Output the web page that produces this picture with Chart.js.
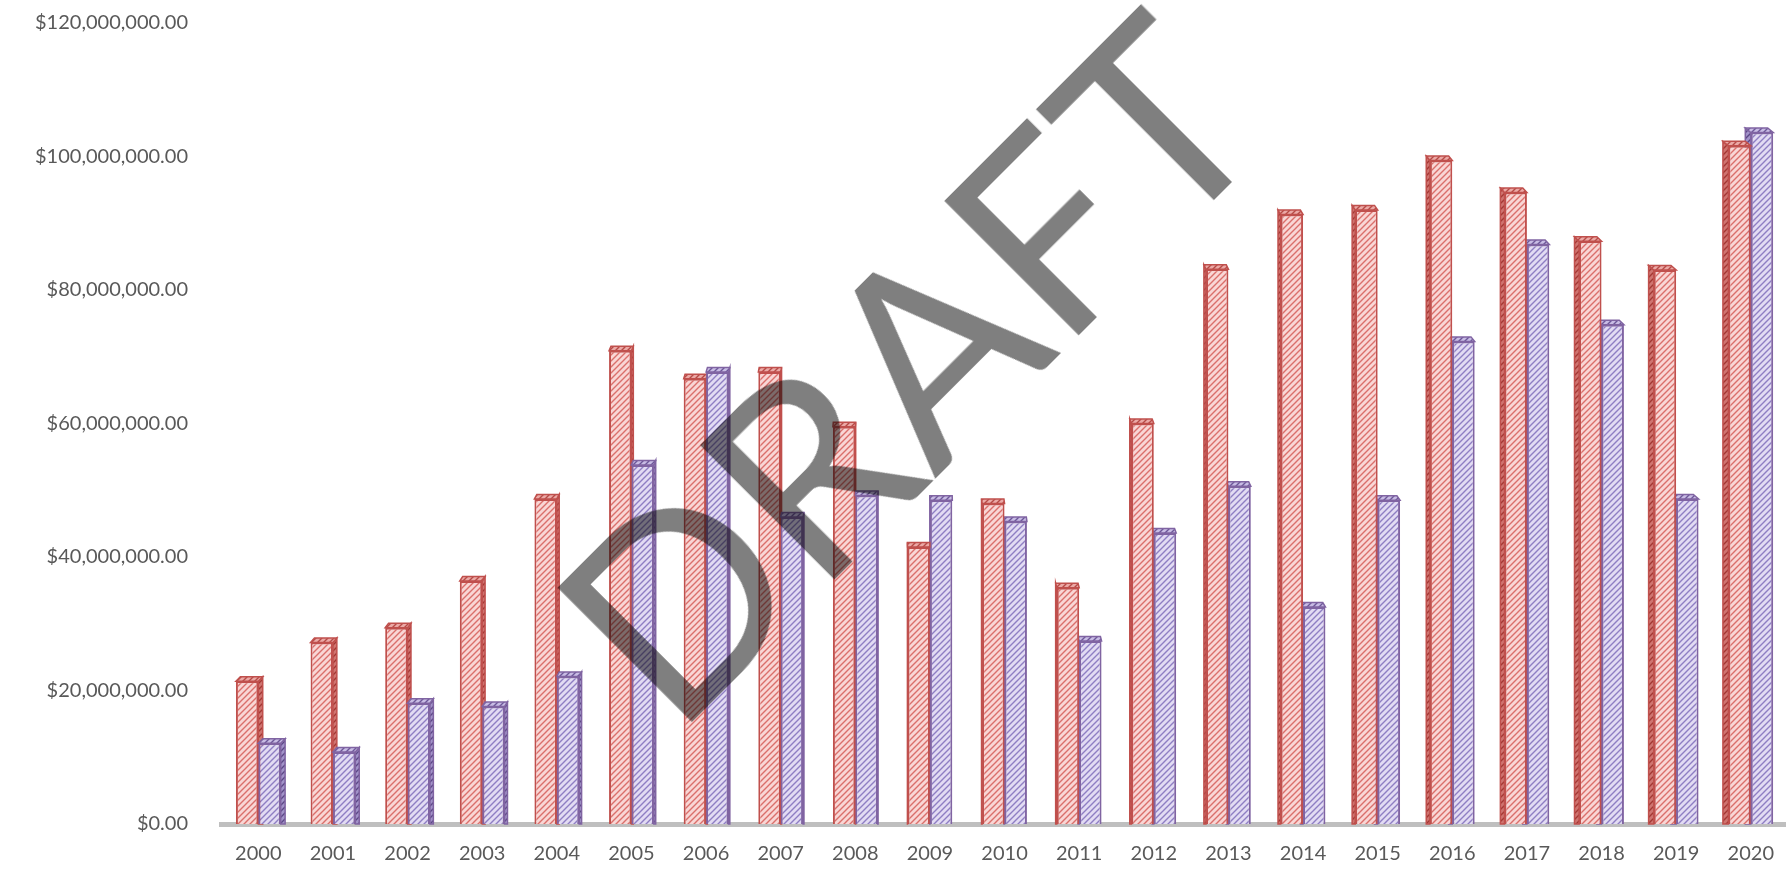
<!DOCTYPE html>
<html>
<head>
<meta charset="utf-8">
<script src="https://cdn.jsdelivr.net/npm/chart.js@4/dist/chart.umd.min.js"></script>
<style>
  html, body { margin: 0; padding: 0; background: #fff; overflow: hidden; }
  #wrap { position: relative; width: 1786px; height: 869px; overflow: hidden; }
  #draft {
    position: absolute; left: 904px; top: 365px;
    transform: translate(-50%, -50%) rotate(-45deg);
    font-family: Lato, sans-serif; font-size: 265px; line-height: 1;
    color: rgba(0, 0, 0, 0.5); white-space: nowrap; pointer-events: none;
  }
</style>
</head>
<body>
<div id="wrap">
  <canvas id="barchart" width="1792" height="889"></canvas>
  <div id="draft">DRAFT</div>
</div>
<script>
// data
const years = ['2000', '2001', '2002', '2003', '2004', '2005', '2006', '2007', '2008', '2009', '2010',
  '2011', '2012', '2013', '2014', '2015', '2016', '2017', '2018', '2019', '2020'];
const series1 = [21400000, 27200000, 29400000, 36400000, 48700000, 70900000, 66700000, 67700000,
  59500000, 41500000, 48000000, 35400000, 60000000, 83100000, 91300000, 92000000, 99400000,
  94600000, 87300000, 83000000, 101600000];
const series2 = [12100000, 10800000, 18100000, 17600000, 22100000, 53800000, 67700000, 46000000,
  49200000, 48500000, 45300000, 27400000, 43600000, 50600000, 32500000, 48500000, 72300000,
  86800000, 74800000, 48700000, 103600000];
const yTicksMax = 120000000;
const yTicksStep = 20000000;

const DEPTH = 4.5;
const VANISH_X = 900; // bars left of this show their right side, bars right of it their left side

function hatch(bg, line) {
  const c = document.createElement('canvas');
  c.width = 6; c.height = 6;
  const g = c.getContext('2d');
  g.fillStyle = bg;
  g.fillRect(0, 0, 6, 6);
  g.strokeStyle = line;
  g.lineWidth = 1.4;
  g.beginPath();
  g.moveTo(-1, 7); g.lineTo(7, -1);
  g.moveTo(-4, 4); g.lineTo(4, -4);
  g.moveTo(2, 10); g.lineTo(10, 2);
  g.stroke();
  return g.createPattern(c, 'repeat');
}

const ctx = document.getElementById('barchart').getContext('2d');

const looks = [
  { front: hatch('#f9d6d5', '#da6f6b'), side: hatch('#cf7470', '#a33733'), top: hatch('#eba9a6', '#b54a46'), border: '#c0504d' },
  { front: hatch('#e2dbf3', '#8e7ec3'), side: hatch('#a293c9', '#5b4785'), top: hatch('#c8bce4', '#6c5798'), border: '#8064a2' }
];

// draws each bar with a small side and top face, bar by bar
const bars3d = {
  id: 'bars3d',
  beforeDatasetsDraw(chart) {
    const c = chart.ctx;
    const metas = chart.getSortedVisibleDatasetMetas();
    const area = chart.chartArea;
    c.save();
    c.beginPath();
    c.rect(area.left - 10, 0, area.right - area.left + 20, area.bottom + 2);
    c.clip();
    for (let i = 0; i < chart.data.labels.length; i++) {
      const cx = metas[0].data[i].x;
      let dx = DEPTH * (VANISH_X - cx) / (VANISH_X - 235);
      dx = Math.max(-5.5, Math.min(5.5, dx));
      const order = dx >= 0 ? metas : metas.slice().reverse();
      order.forEach(meta => {
        const bar = meta.data[i];
        const look = looks[meta.index];
        const p = bar.getProps(['x', 'y', 'base', 'width'], true);
        const l = p.x - p.width / 2, r = p.x + p.width / 2, t = p.y, b = p.base;
        const e = dx >= 0 ? r : l;
        c.lineWidth = 1.5;
        c.strokeStyle = look.border;
        // side face
        c.beginPath();
        c.moveTo(e, t); c.lineTo(e + dx, t - DEPTH); c.lineTo(e + dx, b); c.lineTo(e, b);
        c.closePath();
        c.fillStyle = look.side; c.fill(); c.stroke();
        // top face
        c.beginPath();
        c.moveTo(l, t); c.lineTo(l + dx, t - DEPTH); c.lineTo(r + dx, t - DEPTH); c.lineTo(r, t);
        c.closePath();
        c.fillStyle = look.top; c.fill(); c.stroke();
        bar.draw(c);
      });
    }
    c.restore();
    return false;
  }
};

const labelFont = { family: 'Lato, sans-serif', size: 20 };

let chart = new Chart(ctx, {
  type: 'bar',
  data: {
    labels: years,
    datasets: [
      { label: 'Series 1', data: series1, backgroundColor: looks[0].front, borderColor: looks[0].border, borderWidth: 2 },
      { label: 'Series 2', data: series2, backgroundColor: looks[1].front, borderColor: looks[1].border, borderWidth: 2 }
    ]
  },
  options: {
    responsive: false,
    animation: false,
    categoryPercentage: 0.6,
    barPercentage: 1.0,
    layout: { padding: { top: 23, bottom: 5, left: 0, right: 0 } },
    plugins: { legend: { display: false }, tooltip: { enabled: false } },
    scales: {
      x: {
        grid: { display: false, drawTicks: false },
        border: { display: true, color: '#bfbfbf', width: 5 },
        ticks: { color: '#595959', font: labelFont, padding: 18, maxRotation: 0 }
      },
      y: {
        min: 0,
        max: yTicksMax,
        grid: { display: false, drawTicks: false },
        border: { display: false },
        ticks: {
          stepSize: yTicksStep,
          color: '#595959',
          font: labelFont,
          padding: 33,
          callback: v => '$' + v.toLocaleString('en-US', { minimumFractionDigits: 2, maximumFractionDigits: 2 })
        },
        afterFit(scale) {
          scale.width = 221;
          scale.paddingTop = 0;
          scale.paddingBottom = 0;
        }
      }
    }
  },
  plugins: [bars3d]
});
</script>
</body>
</html>
